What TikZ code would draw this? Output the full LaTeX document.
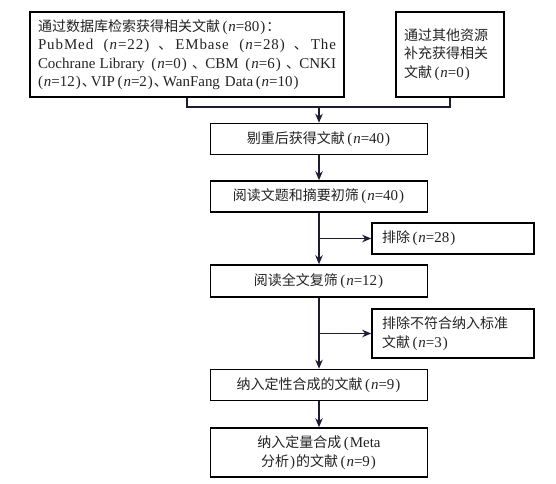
\documentclass[tikz,border=0pt]{standalone}
\usepackage{fontspec}
\setmainfont{Liberation Serif}[Scale=1.07]
\newfontfamily\cjk{Noto Sans CJK SC}
\usetikzlibrary{arrows.meta}
\definecolor{ink}{RGB}{30,28,52}
\definecolor{txt}{RGB}{35,35,35}
\newcommand\zh[1]{{\cjk #1}}
\newcommand\nn[1]{\kern2.5pt(\kern1pt\textit{n}=#1\kern1pt)\kern1pt}
\newcommand\dun{\zh{、}\kern-5pt}
\newcommand\gl{\hspace{0pt plus 1fil}}
\newcommand\lsp{\addfontfeatures{LetterSpace=6}}
\begin{document}
\begin{tikzpicture}[x=1pt,y=-1pt,
 box/.style={draw=black, line width=1.6pt, inner sep=0pt, font=\fontsize{14}{18.5}\selectfont, text=txt, align=center},
 boxl/.style={box, align=left, inner xsep=8pt},
 link/.style={draw=ink, line width=1.3pt},
 arr/.style={link, -{Stealth[length=9pt,width=7.5pt]}}]
\useasboundingbox[fill=white] (0,0) rectangle (556,483);

\node[boxl, text width=298pt, minimum height=85pt] (A) at (187,54.5)
 {\zh{通过数据库检索获得相关文献}\nn{80}\zh{：}\\
  \makebox[\linewidth][s]{\lsp PubMed\gl\nn{22}\gl\dun\gl EMbase\gl\nn{28}\gl\dun\gl The}\\
  \makebox[\linewidth][s]{Cochrane\gl Library\gl\nn{0}\gl\dun\gl CBM\gl\nn{6}\gl\dun\gl CNKI}\\
  \kern-2.5pt\nn{12}\dun VIP\nn{2}\dun WanFang Data\nn{10}};
\node[boxl, text width=92pt, minimum height=85pt] (B) at (450,54.5)
 {\zh{通过其他资源}\\\zh{补充获得相关}\\\zh{文献}\nn{0}};

\node[box, minimum width=217pt, minimum height=31pt] (C) at (319,139) {\zh{剔重后获得文献}\nn{40}};
\node[box, minimum width=217pt, minimum height=31pt] (D) at (319,196.5) {\zh{阅读文题和摘要初筛}\nn{40}};
\node[boxl, inner xsep=10pt, text width=142pt, minimum height=31pt] (E) at (453,238.5) {\zh{排除}\nn{28}};
\node[box, minimum width=217pt, minimum height=32pt] (F) at (319,281) {\zh{阅读全文复筛}\nn{12}};
\node[boxl, inner xsep=10pt, text width=142pt, minimum height=49pt] (G) at (453,333.5)
 {\zh{排除不符合纳入标准}\\\zh{文献}\nn{3}};
\node[box, minimum width=217pt, minimum height=31pt] (H) at (319,385) {\zh{纳入定性合成的文献}\nn{9}};
\node[box, minimum width=217pt, minimum height=49pt] (I) at (319,452.5)
 {\zh{纳入定量合成}\kern2.5pt(\kern1pt Meta\\\zh{分析}\kern1pt)\kern1pt\zh{的文献}\nn{9}};

\coordinate (j) at (319,107);
\draw[link] (A.south) |- (j) -| (B.south);
\draw[arr] (j) -- (C.north);
\draw[arr] (C.south) -- (D.north);
\draw[arr] (D.south) -- (F.north);
\draw[arr] (D.south |- E.west) -- (E.west);
\draw[arr] (F.south) -- (H.north);
\draw[arr] (F.south |- G.west) -- (G.west);
\draw[arr] (H.south) -- (I.north);
\end{tikzpicture}
\end{document}
